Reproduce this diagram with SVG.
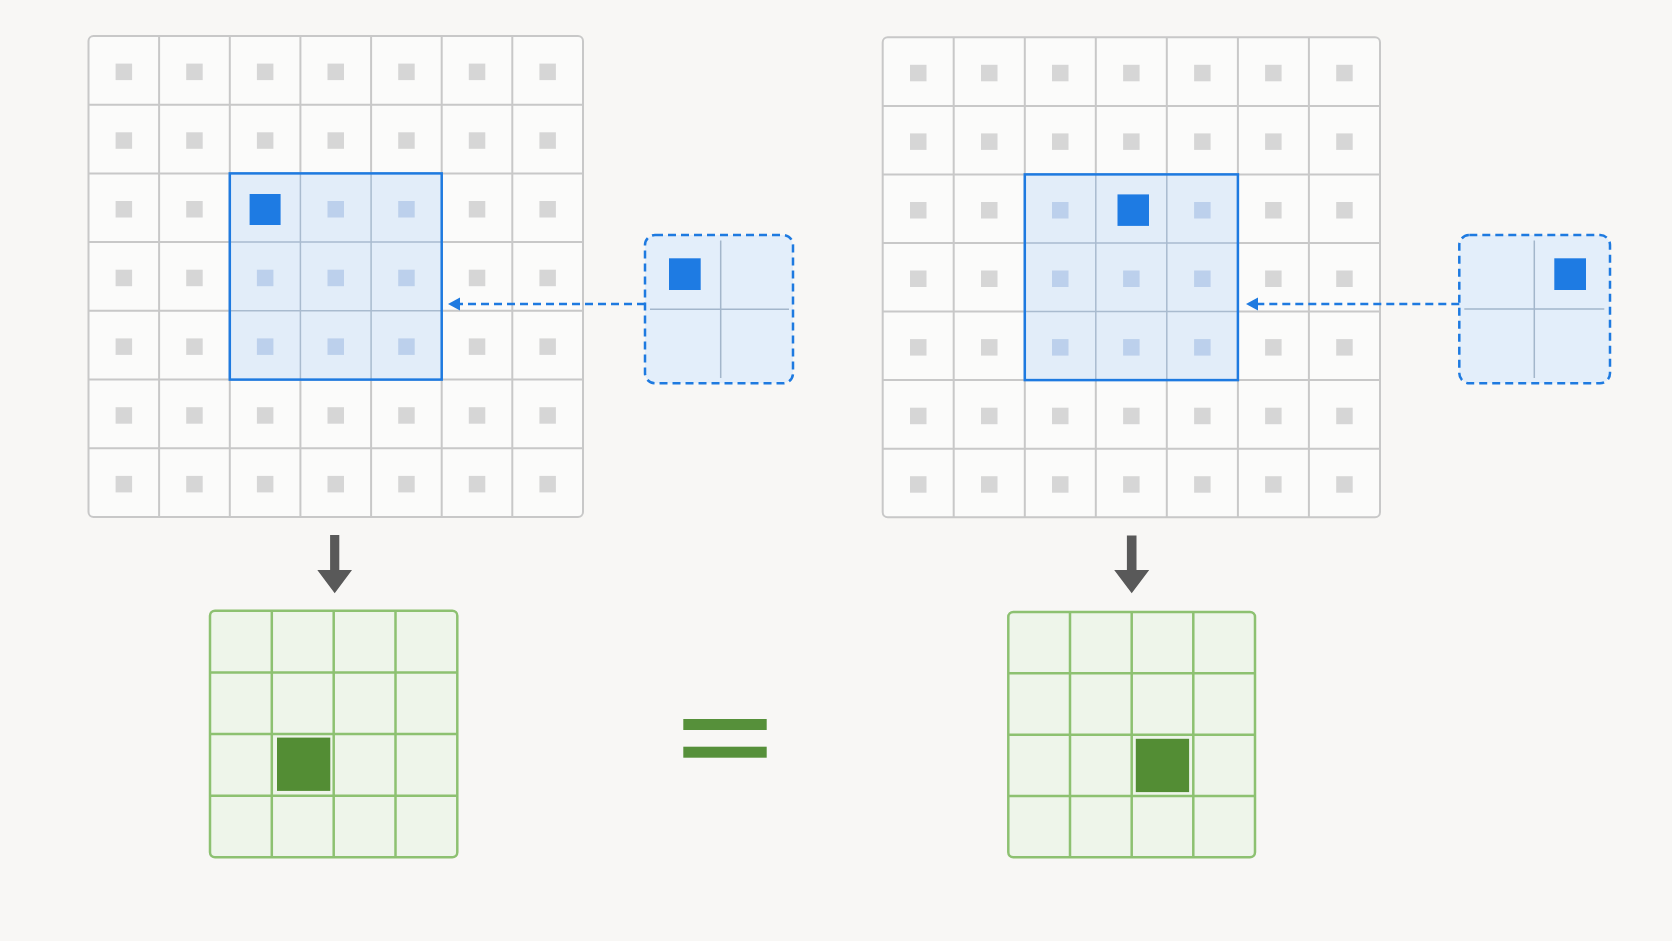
<svg xmlns="http://www.w3.org/2000/svg" xmlns:xlink="http://www.w3.org/1999/xlink" width="1672" height="941" viewBox="0 0 1672 941">
  <defs>
    <style>
      .bg { fill: #f8f7f5; }
      .gridbox { fill: #fbfbfa; stroke: #c8c8c8; stroke-width: 2; }
      .gline { fill: none; stroke: #c8c8c8; stroke-width: 2; }
      .dot { fill: #d6d6d6; }
      .ldot { fill: #bcd0ec; }
      .win { fill: #e2edf9; }
      .wline { fill: none; stroke: #a9bbcf; stroke-width: 1.5; }
      .winb { fill: none; stroke: #1e7ae0; stroke-width: 2.5; }
      .dark { fill: #1e7be3; }
      .kbox { fill: #e3eefa; stroke: #1e7ae0; stroke-width: 2.5; stroke-dasharray: 8 5; }
      .kline { fill: none; stroke: #a3b6cb; stroke-width: 1.5; }
      .dash { fill: none; stroke: #1e7ae0; stroke-width: 2.5; stroke-dasharray: 8 5; }
      .ahead { fill: #1e7ae0; }
      .down { fill: #595959; }
      .obox { fill: #eef5ea; stroke: #8dc171; stroke-width: 2.5; }
      .oline { fill: none; stroke: #8dc171; stroke-width: 2.5; }
      .ofill { fill: #538d34; }
      .eq { fill: #56903a; }
    </style>
    <rect id="g" class="dot" width="16.5" height="16.5"/>
    <rect id="lb" class="ldot" width="16.5" height="16.5"/>
  </defs>
  <rect class="bg" x="0" y="0" width="1672" height="941"/>

  <!-- Input grid 1 -->
  <g id="input-grid-1">
    <rect class="gridbox" x="88.5" y="36" width="494.5" height="481" rx="5"/>
    <g>
      <use href="#g" x="115.6" y="63.6"/><use href="#g" x="186.2" y="63.6"/><use href="#g" x="256.9" y="63.6"/><use href="#g" x="327.5" y="63.6"/><use href="#g" x="398.2" y="63.6"/><use href="#g" x="468.8" y="63.6"/><use href="#g" x="539.4" y="63.6"/>
      <use href="#g" x="115.6" y="132.3"/><use href="#g" x="186.2" y="132.3"/><use href="#g" x="256.9" y="132.3"/><use href="#g" x="327.5" y="132.3"/><use href="#g" x="398.2" y="132.3"/><use href="#g" x="468.8" y="132.3"/><use href="#g" x="539.4" y="132.3"/>
      <use href="#g" x="115.6" y="201.0"/><use href="#g" x="186.2" y="201.0"/><use href="#g" x="468.8" y="201.0"/><use href="#g" x="539.4" y="201.0"/>
      <use href="#g" x="115.6" y="269.7"/><use href="#g" x="186.2" y="269.7"/><use href="#g" x="468.8" y="269.7"/><use href="#g" x="539.4" y="269.7"/>
      <use href="#g" x="115.6" y="338.4"/><use href="#g" x="186.2" y="338.4"/><use href="#g" x="468.8" y="338.4"/><use href="#g" x="539.4" y="338.4"/>
      <use href="#g" x="115.6" y="407.2"/><use href="#g" x="186.2" y="407.2"/><use href="#g" x="256.9" y="407.2"/><use href="#g" x="327.5" y="407.2"/><use href="#g" x="398.2" y="407.2"/><use href="#g" x="468.8" y="407.2"/><use href="#g" x="539.4" y="407.2"/>
      <use href="#g" x="115.6" y="475.9"/><use href="#g" x="186.2" y="475.9"/><use href="#g" x="256.9" y="475.9"/><use href="#g" x="327.5" y="475.9"/><use href="#g" x="398.2" y="475.9"/><use href="#g" x="468.8" y="475.9"/><use href="#g" x="539.4" y="475.9"/>
    </g>
    <path class="gline" d="M159.1 36V517M229.8 36V517M300.4 36V517M371.1 36V517M441.7 36V517M512.3 36V517M88.5 104.7H583M88.5 173.4H583M88.5 242.1H583M88.5 310.8H583M88.5 379.6H583M88.5 448.3H583"/>
    <!-- receptive window -->
    <rect class="win" x="229.8" y="173.4" width="211.9" height="206.2"/>
    <path class="wline" d="M300.4 173.4V379.6M371.1 173.4V379.6M229.8 242.1H441.7M229.8 310.8H441.7"/>
    <use href="#lb" x="327.5" y="201.0"/><use href="#lb" x="398.2" y="201.0"/>
    <use href="#lb" x="256.9" y="269.7"/><use href="#lb" x="327.5" y="269.7"/><use href="#lb" x="398.2" y="269.7"/>
    <use href="#lb" x="256.9" y="338.4"/><use href="#lb" x="327.5" y="338.4"/><use href="#lb" x="398.2" y="338.4"/>
    <rect class="dark" x="249.6" y="194" width="31" height="31"/>
    <rect class="winb" x="229.8" y="173.4" width="211.9" height="206.2"/>
  </g>

  <!-- Kernel 1 -->
  <g id="kernel-1">
    <rect class="kbox" x="645" y="235" width="148" height="148.3" rx="10"/>
    <path class="kline" d="M720.7 240.6V378M650 309.3H789"/>
    <rect class="dark" x="669" y="258.3" width="31.7" height="31.7"/>
  </g>

  <!-- Input grid 2 -->
  <g id="input-grid-2">
    <rect class="gridbox" x="882.7" y="37.3" width="497.3" height="480" rx="5"/>
    <g>
      <use href="#g" x="910.0" y="64.8"/><use href="#g" x="981.0" y="64.8"/><use href="#g" x="1052.0" y="64.8"/><use href="#g" x="1123.1" y="64.8"/><use href="#g" x="1194.1" y="64.8"/><use href="#g" x="1265.1" y="64.8"/><use href="#g" x="1336.2" y="64.8"/>
      <use href="#g" x="910.0" y="133.4"/><use href="#g" x="981.0" y="133.4"/><use href="#g" x="1052.0" y="133.4"/><use href="#g" x="1123.1" y="133.4"/><use href="#g" x="1194.1" y="133.4"/><use href="#g" x="1265.1" y="133.4"/><use href="#g" x="1336.2" y="133.4"/>
      <use href="#g" x="910.0" y="202.0"/><use href="#g" x="981.0" y="202.0"/><use href="#g" x="1265.1" y="202.0"/><use href="#g" x="1336.2" y="202.0"/>
      <use href="#g" x="910.0" y="270.5"/><use href="#g" x="981.0" y="270.5"/><use href="#g" x="1265.1" y="270.5"/><use href="#g" x="1336.2" y="270.5"/>
      <use href="#g" x="910.0" y="339.1"/><use href="#g" x="981.0" y="339.1"/><use href="#g" x="1265.1" y="339.1"/><use href="#g" x="1336.2" y="339.1"/>
      <use href="#g" x="910.0" y="407.7"/><use href="#g" x="981.0" y="407.7"/><use href="#g" x="1052.0" y="407.7"/><use href="#g" x="1123.1" y="407.7"/><use href="#g" x="1194.1" y="407.7"/><use href="#g" x="1265.1" y="407.7"/><use href="#g" x="1336.2" y="407.7"/>
      <use href="#g" x="910.0" y="476.2"/><use href="#g" x="981.0" y="476.2"/><use href="#g" x="1052.0" y="476.2"/><use href="#g" x="1123.1" y="476.2"/><use href="#g" x="1194.1" y="476.2"/><use href="#g" x="1265.1" y="476.2"/><use href="#g" x="1336.2" y="476.2"/>
    </g>
    <path class="gline" d="M953.7 37.3V517.3M1024.8 37.3V517.3M1095.8 37.3V517.3M1166.8 37.3V517.3M1237.9 37.3V517.3M1308.9 37.3V517.3M882.7 105.9H1380M882.7 174.4H1380M882.7 243H1380M882.7 311.6H1380M882.7 380.1H1380M882.7 448.7H1380"/>
    <rect class="win" x="1024.8" y="174.4" width="213.1" height="205.7"/>
    <path class="wline" d="M1095.8 174.4V380.1M1166.8 174.4V380.1M1024.8 243H1237.9M1024.8 311.6H1237.9"/>
    <use href="#lb" x="1052.0" y="202.0"/><use href="#lb" x="1194.1" y="202.0"/>
    <use href="#lb" x="1052.0" y="270.5"/><use href="#lb" x="1123.1" y="270.5"/><use href="#lb" x="1194.1" y="270.5"/>
    <use href="#lb" x="1052.0" y="339.1"/><use href="#lb" x="1123.1" y="339.1"/><use href="#lb" x="1194.1" y="339.1"/>
    <rect class="dark" x="1117.5" y="194.4" width="31.5" height="31.5"/>
    <rect class="winb" x="1024.8" y="174.4" width="213.1" height="205.7"/>
  </g>

  <!-- Kernel 2 -->
  <g id="kernel-2">
    <rect class="kbox" x="1459.3" y="235" width="150.7" height="148.3" rx="10"/>
    <path class="kline" d="M1534.3 240.6V378M1464.3 309H1604.3"/>
    <rect class="dark" x="1554.3" y="258.3" width="31.7" height="31.7"/>
  </g>

  <!-- Output grid 1 -->
  <g id="output-grid-1">
    <rect class="obox" x="210" y="610.7" width="247.3" height="246.6" rx="5"/>
    <path class="oline" d="M271.8 610.7V857.3M333.7 610.7V857.3M395.5 610.7V857.3M210 672.4H457.3M210 734H457.3M210 795.7H457.3"/>
    <rect class="ofill" x="277" y="737.6" width="53.3" height="53.3"/>
  </g>

  <!-- Equals sign -->
  <g id="equals">
    <rect class="eq" x="683.3" y="719" width="83.4" height="11"/>
    <rect class="eq" x="683.3" y="746.7" width="83.4" height="11"/>
  </g>

  <!-- Output grid 2 -->
  <g id="output-grid-2">
    <rect class="obox" x="1008.3" y="612" width="246.7" height="245.3" rx="5"/>
    <path class="oline" d="M1070 612V857.3M1131.7 612V857.3M1193.3 612V857.3M1008.3 673.3H1255M1008.3 734.7H1255M1008.3 796H1255"/>
    <rect class="ofill" x="1135.8" y="738.8" width="53.3" height="53.3"/>
  </g>

  <!-- Connectors -->
  <g id="connectors">
    <path class="dash" d="M645 304H458"/>
    <path class="ahead" d="M448 304L460 297.5V310.5Z"/>
    <path class="dash" d="M1459.3 304H1256"/>
    <path class="ahead" d="M1246 304L1258 297.5V310.5Z"/>
    <path class="down" d="M330.1 535H339.3V570H352L334.7 593.3L317.3 570H330.1Z"/>
    <path class="down" d="M1126.9 535.5H1136.5V570H1149.2L1131.7 593.3L1114.2 570H1126.9Z"/>
  </g>
</svg>
